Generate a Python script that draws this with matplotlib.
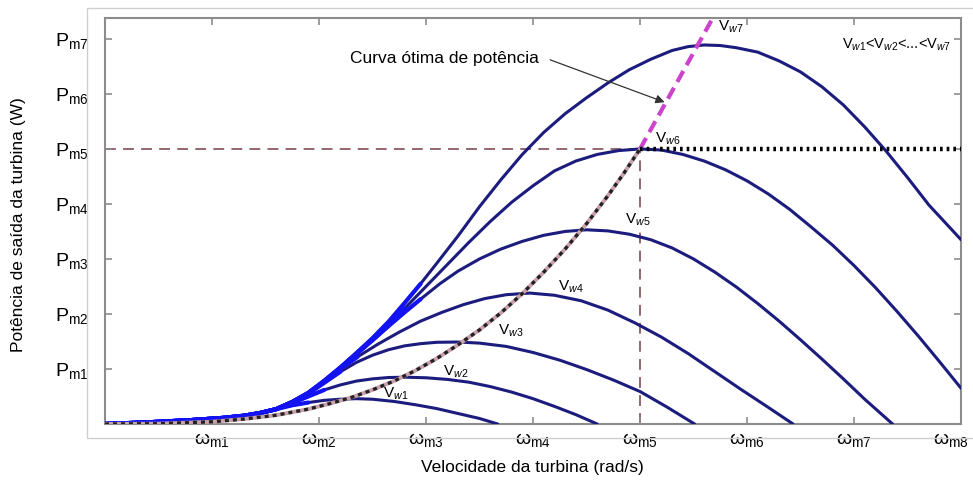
import matplotlib as mpl
import matplotlib.pyplot as plt
from matplotlib.patches import Rectangle
from matplotlib.transforms import ScaledTranslation
import numpy as np

mpl.rcParams["font.family"] = ["Liberation Sans", "DejaVu Sans"]
mpl.rcParams["mathtext.fontset"] = "custom"
mpl.rcParams["mathtext.rm"] = "Liberation Sans"
mpl.rcParams["mathtext.it"] = "Liberation Sans:italic"

# curvas de potencia, eixo em unidades de wm / Pm
start_w = [0, 0.4, 0.8, 1.1, 1.3, 1.45, 1.6]
start_p = [0, 0.03, 0.07, 0.11, 0.15, 0.2, 0.27]

w1 = start_w + [1.75, 1.9, 2.05, 2.2, 2.35, 2.5, 2.7, 2.9, 3.1, 3.3, 3.5, 3.67]
p1 = start_p + [0.34, 0.39, 0.43, 0.45, 0.46, 0.45, 0.41, 0.35, 0.28, 0.19, 0.1, 0]

w2 = start_w + [1.75, 1.9, 2.05, 2.2, 2.35, 2.5, 2.65, 2.82, 3.0, 3.2, 3.4, 3.6,
                3.8, 4.0, 4.2, 4.4, 4.6]
p2 = start_p + [0.38, 0.5, 0.62, 0.71, 0.78, 0.82, 0.845, 0.85, 0.84, 0.81, 0.76, 0.68,
                0.58, 0.46, 0.32, 0.17, 0]

w3 = start_w + [1.75, 1.9, 2.05, 2.2, 2.35, 2.5, 2.65, 2.8, 2.95, 3.1, 3.3, 3.5, 3.75,
                4.0, 4.25, 4.5, 4.75, 5.0, 5.25, 5.51]
p3 = start_p + [0.4, 0.55, 0.75, 0.95, 1.12, 1.25, 1.35, 1.42, 1.46, 1.485, 1.49, 1.47,
                1.41, 1.3, 1.16, 0.99, 0.8, 0.59, 0.31, 0]

w4 = start_w + [1.75, 1.9, 2.05, 2.2, 2.36, 2.55, 2.75, 2.95, 3.15, 3.35, 3.55, 3.75,
                3.97, 4.2, 4.45, 4.7, 4.95, 5.2, 5.45, 5.7, 5.95, 6.2, 6.43]
p4 = start_p + [0.4, 0.56, 0.77, 1.0, 1.22, 1.45, 1.67, 1.87, 2.03, 2.17, 2.28, 2.35,
                2.38, 2.34, 2.24, 2.07, 1.84, 1.58, 1.28, 0.95, 0.62, 0.3, 0]

w5 = start_w + [1.75, 1.9, 2.05, 2.2, 2.35, 2.5, 2.65, 2.8, 2.95, 3.13, 3.3, 3.5, 3.7,
                3.9, 4.1, 4.3, 4.5, 4.7, 4.9, 5.1, 5.3, 5.5, 5.7, 5.9, 6.1, 6.3, 6.5,
                6.7, 6.9, 7.1, 7.36]
p5 = start_p + [0.4, 0.56, 0.78, 1.02, 1.27, 1.52, 1.78, 2.03, 2.27, 2.55, 2.78, 3.0,
                3.18, 3.32, 3.43, 3.5, 3.53, 3.51, 3.45, 3.35, 3.2, 3.0, 2.76, 2.49,
                2.19, 1.87, 1.53, 1.18, 0.82, 0.45, 0]

w6 = start_w + [1.75, 1.9, 2.05, 2.2, 2.35, 2.5, 2.65, 2.8, 3.0, 3.2, 3.4, 3.6, 3.8,
                4.0, 4.2, 4.4, 4.6, 4.8, 5.0, 5.2, 5.4, 5.6, 5.8, 6.0, 6.2, 6.4, 6.6,
                6.8, 7.0, 7.2, 7.4, 7.6, 7.8, 8.0]
p6 = start_p + [0.4, 0.56, 0.78, 1.02, 1.28, 1.54, 1.82, 2.1, 2.5, 2.9, 3.3, 3.68, 4.03,
                4.33, 4.6, 4.78, 4.9, 4.97, 5.0, 4.98, 4.9, 4.78, 4.62, 4.42, 4.18, 3.9,
                3.58, 3.25, 2.88, 2.48, 2.05, 1.6, 1.13, 0.65]

w7 = start_w + [1.75, 1.9, 2.05, 2.2, 2.35, 2.5, 2.65, 2.8, 2.95, 3.1, 3.3, 3.5, 3.7,
                3.9, 4.1, 4.3, 4.5, 4.7, 4.9, 5.1, 5.3, 5.45, 5.6, 5.75, 5.9, 6.1, 6.3,
                6.5, 6.7, 6.9, 7.1, 7.3, 7.5, 7.7, 8.0]
p7 = start_p + [0.4, 0.57, 0.79, 1.03, 1.29, 1.56, 1.86, 2.2, 2.55, 2.92, 3.42, 3.95,
                4.44, 4.9, 5.3, 5.64, 5.93, 6.2, 6.44, 6.63, 6.79, 6.86, 6.89, 6.88,
                6.84, 6.76, 6.6, 6.4, 6.13, 5.8, 5.4, 4.96, 4.48, 3.98, 3.35]

curves_w = [w1, w2, w3, w4, w5, w6, w7]
curves_p = [p1, p2, p3, p4, p5, p6, p7]

# curva otima de potencia
opt_w = [0, 0.5, 1.0, 1.3, 1.6, 1.9, 2.1, 2.3, 2.5, 2.7, 2.9, 3.1, 3.3, 3.5, 3.7, 3.9,
         4.1, 4.3, 4.5, 4.7, 4.85, 5.0]
opt_p = [0, 0.005, 0.04, 0.09, 0.16, 0.27, 0.37, 0.48, 0.62, 0.78, 0.97, 1.19, 1.44,
         1.71, 2.02, 2.37, 2.76, 3.18, 3.64, 4.15, 4.56, 5.0]
mag_w = [5.0, 5.3, 5.54, 5.68]
mag_p = [5.0, 6.05, 6.89, 7.38]

w_nom = 5.0
p_nom = 5.0
w_max = 8.0

x_ticks = [1, 2, 3, 4, 5, 6, 7, 8]
y_ticks = [1, 2, 3, 4, 5, 6, 7]
x_labels = ["ω$_{\\mathrm{m%d}}$" % i for i in x_ticks]
y_labels = ["P$_{\\mathrm{m%d}}$" % i for i in y_ticks]

curve_labels = [r"V$_{\mathit{w%d}}$" % i for i in range(1, 8)]
label_pos = [(2.6, 0.55), (3.16, 0.95), (3.67, 1.69), (4.23, 2.49),
             (4.86, 3.71), (5.14, 5.18), (5.73, 7.22)]

NAVY = "#1c1c7e"
BLUE = "#1212f2"
BROWN = "#8a5a62"
GRAY = "#8c8c8c"
blue_until = [1.9, 2.05, 2.3, 2.36, 2.95, 2.95, 2.95]

fig = plt.figure(figsize=(9.73, 4.83), dpi=100)
ax = fig.add_axes([0.1079, 0.1222, 0.8798, 0.8405])

# moldura clara de fundo
fig.patches.append(Rectangle((0.0894, 0.0932), 1.0, 0.8902, transform=fig.transFigure,
                             fill=False, edgecolor="#cfcfcf", linewidth=1.0, zorder=0))

# linhas de referencia
ax.plot([0, w_nom], [p_nom, p_nom], color=BROWN, lw=1.3, dashes=(6, 4), zorder=1)
ax.plot([w_nom, w_nom], [0, p_nom], color=BROWN, lw=1.3, dashes=(6, 4), zorder=1)

for cw, cp, wb in zip(curves_w, curves_p, blue_until):
    cw = np.array(cw)
    cp = np.array(cp)
    ax.plot(cw, cp, color=NAVY, lw=2.2, zorder=3, solid_capstyle="round",
            solid_joinstyle="round")
    m = cw <= wb
    ax.plot(cw[m], cp[m], color=BLUE, lw=3.0, zorder=4, solid_capstyle="round",
            solid_joinstyle="round")

ax.plot(opt_w, opt_p, color="#c9a0ac", lw=2.8, zorder=5)
ax.plot(opt_w, opt_p, color="#222222", lw=2.4, dashes=(1.2, 1.2), zorder=6)
ax.plot(mag_w, mag_p, color="#cc44cc", lw=3, dashes=(3, 1.6), zorder=6)
ax.plot([w_nom, w_max], [p_nom, p_nom], color="black", lw=3.2, dashes=(0.6, 0.9),
        zorder=6)

for i, (lab, (lx, ly)) in enumerate(zip(curve_labels, label_pos)):
    t = ax.text(lx, ly, lab, fontsize=11, ha="left", va="center", zorder=7)
    if i == 4:
        t.set_bbox(dict(facecolor="white", edgecolor="none", pad=0.5))

ax.text(6.89, 6.89, r"V$_{\mathit{w1}}$<V$_{\mathit{w2}}$<...<V$_{\mathit{w7}}$",
        fontsize=10.5, ha="left", va="center")
ax.text(2.29, 6.64, "Curva ótima de potência", fontsize=12.5, ha="left", va="center")
ax.annotate("", xy=(5.23, 5.85), xytext=(4.16, 6.62),
            arrowprops=dict(arrowstyle="-|>", color="#333333", lw=0.9,
                            mutation_scale=13, shrinkA=0, shrinkB=0))

ax.set_xlim(0, 8)
ax.set_ylim(0, 7.38)
ax.set_xticks(x_ticks)
ax.set_xticklabels(x_labels)
ax.set_yticks(y_ticks)
ax.set_yticklabels(y_labels)
ax.tick_params(axis="both", direction="in", length=5, width=1.2, color=GRAY,
               top=True, right=True, labelsize=14)
ax.tick_params(axis="y", pad=12)
ax.tick_params(axis="x", pad=5)
for s in ax.spines.values():
    s.set_color(GRAY)
    s.set_linewidth(1.5)

# o ultimo rotulo fica encostado na borda direita
last = ax.xaxis.get_major_ticks()[-1].label1
last.set_transform(last.get_transform() + ScaledTranslation(-7 / 72, 0, fig.dpi_scale_trans))

fig.text(0.019, 0.534, "Potência de saída da turbina (W)", rotation=90,
         fontsize=12.5, ha="center", va="center")
fig.text(0.547, 0.033, "Velocidade da turbina (rad/s)", fontsize=12.5,
         ha="center", va="center")

fig.savefig("out.png", dpi=100)
